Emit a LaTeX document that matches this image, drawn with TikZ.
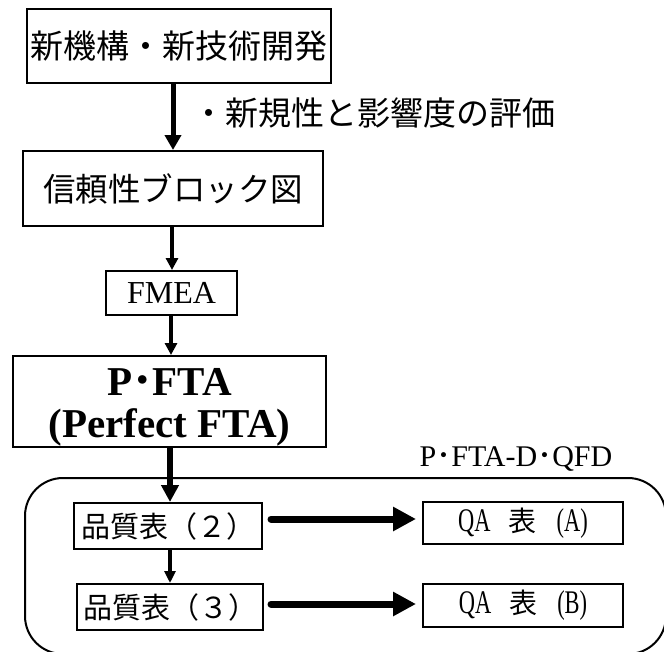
\documentclass[tikz,border=0pt]{standalone}
\usepackage{fontspec}
\setmainfont{Liberation Serif}
\newfontfamily\jp{Noto Sans CJK JP}
\newfontfamily\cond[FakeStretch=0.68]{Liberation Serif}
\usetikzlibrary{arrows.meta}
\begin{document}
\begin{tikzpicture}[x=1pt,y=-1pt,
  box/.style={draw,line width=2pt,inner sep=0pt},
  jbig/.style={font=\jp\fontsize{33}{33}\selectfont},
  jmid/.style={font=\jp\fontsize{29}{29}\selectfont},
  qafont/.style={font=\cond\fontsize{33}{33}\selectfont},
  pffont/.style={font=\bfseries\fontsize{41}{41}\selectfont},
  varrow/.style n args={3}{line width=#1,-{Triangle[length=#2,width=#3]}},
  harrow/.style={line width=7pt,line cap=round,-{Triangle[length=23pt,width=23pt]}}]
\useasboundingbox (0,0) rectangle (664,651);
\fill[white] (0,0) rectangle (664,651);
\clip (0,0) rectangle (664,651);
% group frame
\node[draw,line width=2pt,rounded corners=38pt,minimum width=641pt,minimum height=176pt,inner sep=0pt] (grp) at (345.5,566) {};
% boxes
\node[box,jbig,minimum width=304pt,minimum height=74pt] (b1) at (179,46) {新機構・新技術開発};
\node[jbig,inner sep=0pt] (lab) at (374,113) {・新規性と影響度の評価};
\node[box,font=\jp\fontsize{32.5}{33}\selectfont,minimum width=300pt,minimum height=75pt] (b2) at (173,188.5) {信頼性ブロック図};
\node[box,font=\fontsize{32}{32}\selectfont,minimum width=131pt,minimum height=44pt] (fmea) at (171.5,293) {FMEA};
\node[box,minimum width=313pt,minimum height=91pt] (pfta) at (169.5,401.5) {};
\node[pffont,anchor=base,inner sep=0pt] (pf1) at (169.5,395) {P{\jp ･}FTA};
\node[pffont,anchor=base,inner sep=0pt] (pf2) at (169.5,437) {(Perfect FTA)};
\node[font=\fontsize{30}{30}\selectfont,inner sep=0pt] (qfd) at (516,459) {P{\jp ･}FTA-D{\jp ･}QFD};
\node[box,jmid,minimum width=188pt,minimum height=46pt] (q2) at (168,526) {品質表（２）};
\node[box,jmid,minimum width=186pt,minimum height=46pt] (q3) at (170,607) {品質表（３）};
\node[box,qafont,minimum width=200pt,minimum height=42pt] (qa) at (523,523) {QA\hspace{18pt}{\jp\fontsize{28}{28}\selectfont 表}\hspace{20pt}(A)};
\node[box,qafont,minimum width=200pt,minimum height=43pt] (qb) at (523,605.5) {QA\hspace{18pt}{\jp\fontsize{28}{28}\selectfont 表}\hspace{20pt}(B)};
% arrows
\coordinate (x1) at (173,0);
\coordinate (x2) at (172,0);
\coordinate (x3) at (171,0);
\coordinate (x4) at (170,0);
\coordinate (ya) at (0,519);
\coordinate (yb) at (0,604);
\draw[varrow={5pt}{15pt}{16pt}] (x1 |- b1.south) -- (x1 |- b2.north);
\draw[varrow={3.5pt}{12pt}{12pt}] (x2 |- b2.south) -- (x2 |- fmea.north);
\draw[varrow={3.5pt}{12pt}{12pt}] (x3 |- fmea.south) -- (x3 |- pfta.north);
\draw[varrow={5.5pt}{17pt}{17pt}] (x4 |- pfta.south) -- (x4 |- q2.north);
\draw[varrow={4pt}{12pt}{11pt}] (x4 |- q2.south) -- (x4 |- q3.north);
\draw[harrow,shorten <=8pt,shorten >=6pt] (q2.east |- ya) -- (qa.west |- ya);
\draw[harrow,shorten <=7pt,shorten >=6pt] (q3.east |- yb) -- (qb.west |- yb);
\end{tikzpicture}
\end{document}
